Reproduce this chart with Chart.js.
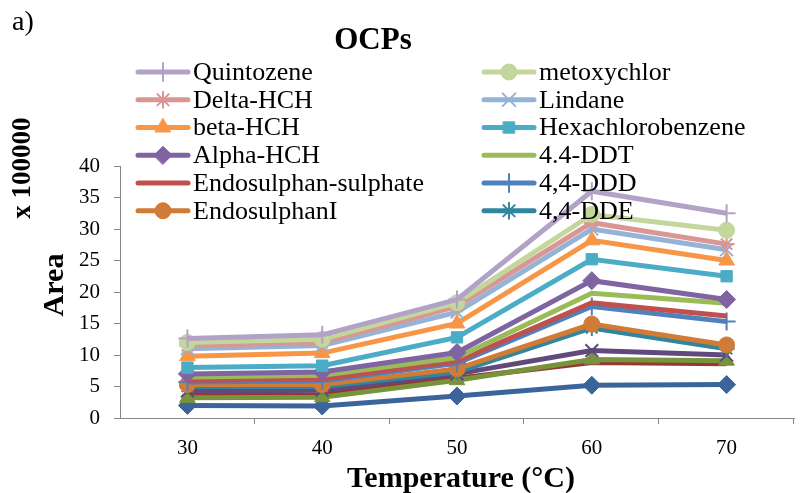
<!DOCTYPE html>
<html lang="en">
<head>
<meta charset="UTF-8">
<title>OCPs</title>
<script src="https://cdn.jsdelivr.net/npm/chart.js"></script>
<style>
  html, body { margin: 0; padding: 0; background: #fff; }
</style>
</head>
<body>
<canvas id="chart" width="805" height="493"></canvas>
<script>
// temperature categories (°C)
const temperatures = [30, 40, 50, 60, 70];

// peak areas (x 100000)
const quintozene        = [12.6, 13.2, 18.8, 36.0, 32.5];
const metoxychlor       = [12.0, 12.5, 18.3, 32.3, 29.8];
const deltaHCH          = [11.5, 12.0, 17.7, 31.0, 27.6];
const lindane           = [11.0, 11.5, 16.8, 30.0, 26.7];
const betaHCH           = [9.8, 10.3, 15.0, 28.2, 25.0];
const hexachlorobenzene = [8.0, 8.3, 12.8, 25.2, 22.5];
const alphaHCH          = [7.0, 7.3, 10.4, 21.8, 18.8];
const ddt44             = [6.5, 6.8, 9.6, 19.8, 18.2];
const endosulphanSulph  = [6.0, 6.2, 9.0, 18.3, 16.2];
const ddd44             = [5.7, 5.9, 8.7, 17.7, 15.3];
const endosulphanI      = [5.3, 5.3, 7.8, 14.9, 11.6];
const dde44             = [5.0, 5.0, 7.3, 14.3, 11.0];
// series whose legend entries are cut off in the original
const series4 = [4.3, 4.4, 7.0, 10.7, 10.0];
const series3 = [3.2, 3.3, 6.0, 9.3, 9.1];
const series2 = [3.6, 3.7, 6.3, 8.8, 8.6];
const series1 = [2.0, 1.9, 3.5, 5.2, 5.3];

const seriesNames = ['Quintozene', 'metoxychlor', 'Delta-HCH', 'Lindane', 'beta-HCH',
  'Hexachlorobenzene', 'Alpha-HCH', '4.4-DDT', 'Endosulphan-sulphate', '4,4-DDD',
  'EndosulphanI', '4,4-DDE', 'Series 4', 'Series 3', 'Series 2', 'Series 1'];
const seriesValues = [quintozene, metoxychlor, deltaHCH, lindane, betaHCH,
  hexachlorobenzene, alphaHCH, ddt44, endosulphanSulph, ddd44,
  endosulphanI, dde44, series4, series3, series2, series1];
const legendCount = 12;

// styling
const colors = ['#B3A2C7', '#C3D69B', '#D99694', '#95B3D7', '#F79646',
  '#4BACC6', '#8064A2', '#9BBB59', '#C0504D', '#4F81BD',
  '#D07B36', '#31859C', '#604A7B', '#77933C', '#953735', '#3B659A'];
const markers = ['cross', 'circle', 'star', 'crossRot', 'triangle',
  'rect', 'rectRot', false, false, 'cross',
  'circle', 'star', 'crossRot', 'triangle', false, 'rectRot'];
const markerSize = { cross: 9, circle: 8, star: 8, crossRot: 9, triangle: 9, rect: 8, rectRot: 9 };

const serif = '"Liberation Serif", "Times New Roman", serif';

const datasets = seriesNames.map((name, i) => {
  const m = markers[i];
  const thin = m === 'cross' || m === 'crossRot' || m === 'star';
  return {
    label: name,
    data: seriesValues[i].map((v, k) => ({ x: temperatures[k], y: v })),
    borderColor: colors[i],
    backgroundColor: colors[i],
    borderWidth: 5,
    pointStyle: m || 'circle',
    pointRadius: m ? markerSize[m] : 0,
    pointBackgroundColor: colors[i],
    pointBorderColor: colors[i],
    pointBorderWidth: thin ? 2 : 1,
    tension: 0
  };
});

const textPlugin = {
  id: 'texts',
  afterDraw(chart) {
    const ctx = chart.ctx;
    const xs = chart.scales.x;
    ctx.save();

    // tick marks between the categories
    ctx.strokeStyle = '#868686';
    ctx.lineWidth = 1;
    ctx.beginPath();
    for (let k = 0; k < temperatures.length; k++) {
      const px = Math.round(xs.getPixelForValue(temperatures[k] + 5)) - 0.5;
      ctx.moveTo(px, chart.chartArea.bottom);
      ctx.lineTo(px, chart.chartArea.bottom + 6);
    }
    ctx.stroke();

    ctx.fillStyle = '#000';
    ctx.textBaseline = 'middle';

    ctx.font = '28px ' + serif;
    ctx.textAlign = 'left';
    ctx.fillText('a)', 12, 23);

    ctx.font = 'bold 31px ' + serif;
    ctx.textAlign = 'center';
    ctx.fillText('OCPs', 373, 41);

    ctx.font = 'bold 30px ' + serif;
    ctx.fillText('Temperature (°C)', 461, 479);

    ctx.save();
    ctx.translate(55, 285);
    ctx.rotate(-Math.PI / 2);
    ctx.fillText('Area', 0, 0);
    ctx.restore();

    ctx.save();
    ctx.font = 'bold 27px ' + serif;
    ctx.translate(23, 168);
    ctx.rotate(-Math.PI / 2);
    ctx.fillText('x 100000', 0, 0);
    ctx.restore();

    // two-column legend
    ctx.font = '26px ' + serif;
    ctx.textAlign = 'left';
    for (let i = 0; i < legendCount; i++) {
      const ds = chart.data.datasets[i];
      const col = i % 2, row = Math.floor(i / 2);
      const x0 = col ? 481 : 135;
      const y = 72 + row * 27.75;
      ctx.strokeStyle = ds.borderColor;
      ctx.lineWidth = 5;
      ctx.lineCap = 'round';
      ctx.beginPath();
      ctx.moveTo(x0 + 3, y);
      ctx.lineTo(x0 + 53, y);
      ctx.stroke();
      if (ds.pointRadius > 0) {
        ctx.fillStyle = ds.pointBackgroundColor;
        ctx.strokeStyle = ds.pointBorderColor;
        ctx.lineWidth = ds.pointBorderWidth;
        Chart.helpers.drawPoint(ctx, {
          pointStyle: ds.pointStyle,
          radius: ds.pointRadius,
          borderWidth: ds.pointBorderWidth,
          rotation: 0
        }, x0 + 28, y);
      }
      ctx.fillStyle = '#000';
      ctx.fillText(ds.label, x0 + 58, y + 1);
    }
    ctx.restore();
  }
};

new Chart(document.getElementById('chart'), {
  type: 'line',
  data: { datasets: datasets },
  options: {
    responsive: false,
    animation: false,
    layout: { padding: { top: 166, right: 3, left: 0, bottom: 0 } },
    plugins: {
      legend: { display: false },
      title: { display: false },
      tooltip: { enabled: false }
    },
    scales: {
      x: {
        type: 'linear',
        min: 25,
        max: 75,
        grid: { display: false },
        border: { display: true, color: '#868686', width: 1 },
        afterBuildTicks(scale) {
          scale.ticks = temperatures.map(v => ({ value: v }));
        },
        ticks: {
          color: '#000',
          font: { family: serif, size: 21 },
          padding: 10,
          maxRotation: 0
        },
        afterFit(scale) { scale.height = 75; }
      },
      y: {
        min: 0,
        max: 40,
        grid: {
          drawOnChartArea: false,
          tickLength: 6,
          color: '#868686'
        },
        border: { color: '#868686', width: 1 },
        ticks: {
          stepSize: 5,
          color: '#000',
          font: { family: serif, size: 21 },
          padding: 14
        },
        afterFit(scale) { scale.width = 120; }
      }
    }
  },
  plugins: [textPlugin]
});
</script>
</body>
</html>
